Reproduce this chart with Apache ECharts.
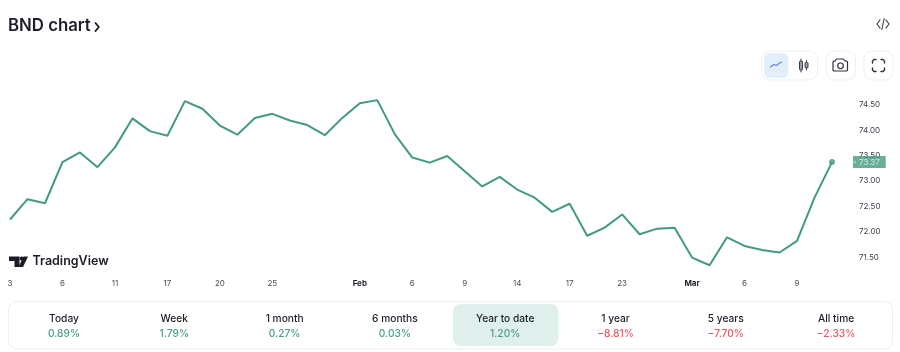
<!DOCTYPE html>
<html>
<head>
<meta charset="utf-8">
<style>html,body{margin:0;padding:0;background:#fff}#c{width:900px;height:352px}</style>
<script src="https://cdn.jsdelivr.net/npm/echarts@6/dist/echarts.min.js"></script>
</head>
<body>
<div id="c"></div>
<script>
const titleText = 'BND chart';
const axisLabels = ['3','','','6','','','11','','','17','','','20','','','25','','','','','Feb','','','6','','','9','','','14','','','17','','','23','','','','Mar','','','6','','','9','',''];
const closeValues = [72.24,72.64,72.56,73.37,73.56,73.27,73.66,74.23,73.98,73.89,74.57,74.42,74.09,73.91,74.24,74.32,74.19,74.10,73.90,74.24,74.53,74.59,73.92,73.46,73.36,73.49,73.19,72.89,73.08,72.83,72.67,72.39,72.55,71.92,72.08,72.34,71.95,72.06,72.08,71.49,71.34,71.89,71.72,71.64,71.59,71.82,72.67,73.37];
const boldLabels = ['Feb','Mar'];
const periodNames = ['Today','Week','1 month','6 months','Year to date','1 year','5 years','All time'];
const periodValues = ['0.89%','1.79%','0.27%','0.03%','1.20%','\u22128.81%','\u22127.70%','\u22122.33%'];
const selectedPeriod = 4;

const GREEN = '#429a80', GREEN_TEXT = '#4a9f86', RED = '#ef5560', INK = '#1c1e29', TICK = '#4a4c58';
const FONT = 'Inter, "Noto Sans", sans-serif';
const lastIndex = closeValues.length - 1;

const txt = (x, y, text, font, fill, align) => ({
  type: 'text', x, y, silent: true,
  style: { text, font, fill, textAlign: align || 'center', textVerticalAlign: 'middle' }
});
const box = (x, y, width, height, r, fill, stroke) => ({
  type: 'rect', silent: true, shape: { x, y, width, height, r },
  style: { fill: fill || '#fff', stroke: stroke || null, lineWidth: stroke ? 1 : 0 }
});
const pline = (points, stroke, w) => ({
  type: 'polyline', silent: true, shape: { points },
  style: { stroke, fill: null, lineWidth: w || 1.3, lineCap: 'round', lineJoin: 'round' }
});
const pgon = (points, fill) => ({
  type: 'polygon', silent: true, shape: { points }, style: { fill }
});

const graphics = [
  txt(8, 26, titleText, '600 16.8px ' + FONT, INK, 'left'),
  pline([[95.5,23],[98.8,27],[95.5,31]], INK, 1.9),
  // embed icon
  pline([[880,20],[877,24],[880,28]], '#3c3e4a', 1.2),
  pline([[886,20],[889,24],[886,28]], '#3c3e4a', 1.2),
  pline([[884.2,18.5],[881.8,29.5]], '#3c3e4a', 1.1),
  // toolbar
  box(761.5, 51, 56, 29, 8, '#fff', '#eeeff3'),
  box(764, 53, 24.5, 25, 6, '#e3eefc'),
  pline([[770.5,67],[774,64.5],[776.5,65.5],[779.5,63],[781.5,62.2]], '#5b86e0', 1.2),
  box(799.5, 61, 3, 9, 1, '#9a9ca6', '#3c3e4a'),
  pline([[801,59],[801,61]], '#3c3e4a', 1), pline([[801,70],[801,72]], '#3c3e4a', 1),
  box(805, 62.5, 3, 5.5, 1, '#9a9ca6', '#3c3e4a'),
  pline([[806.5,60.5],[806.5,62.5]], '#3c3e4a', 1), pline([[806.5,68],[806.5,70]], '#3c3e4a', 1),
  box(826.5, 51, 29, 29, 8, '#fff', '#eeeff3'),
  pline([[835,61],[836.5,59],[843.5,59],[845,61],[846.5,61],[847.5,62],[847.5,70],[846.5,71],[834,71],[833,70],[833,62],[834,61],[835,61]], '#30323e', 1.2),
  { type: 'circle', silent: true, shape: { cx: 840.5, cy: 65.8, r: 2.8 }, style: { fill: 'none', stroke: '#30323e', lineWidth: 1.2 } },
  box(864, 51, 29, 29, 8, '#fff', '#eeeff3'),
  pline([[872.5,63],[872.5,61],[874,59.5],[876,59.5]], '#30323e', 1.4),
  pline([[881,59.5],[883,59.5],[884.5,61],[884.5,63]], '#30323e', 1.4),
  pline([[884.5,68],[884.5,70],[883,71.5],[881,71.5]], '#30323e', 1.4),
  pline([[876,71.5],[874,71.5],[872.5,70],[872.5,68]], '#30323e', 1.4),
  // TradingView logo
  pgon([[9,256.5],[19.5,256.5],[19.5,267],[14.5,267],[14.5,261],[9,261]], '#1b1c24'),
  { type: 'circle', silent: true, shape: { cx: 21.6, cy: 258.6, r: 2.1 }, style: { fill: '#1b1c24' } },
  pgon([[23.5,256.5],[28,256.5],[23,267],[18.5,267]], '#1b1c24'),
  txt(32.5, 261.5, 'TradingView', '600 12.5px ' + FONT, '#1b1c24', 'left'),
  // period panel
  box(8.5, 301.5, 884, 47.5, 8, '#fff', '#eceef1'),
  box(453, 304, 105.5, 42, 8, '#dfefeb')
];
periodNames.forEach((name, i) => {
  const cx = 64 + i * 110.3;
  const v = periodValues[i];
  graphics.push(txt(cx, 318.5, name, '500 10.2px ' + FONT, INK));
  graphics.push(txt(cx, 333.5, v, '500 10.2px ' + FONT, v[0] === '\u2212' ? RED : GREEN_TEXT));
});

const chart = echarts.init(document.getElementById('c'), null, { renderer: 'canvas' });
chart.setOption({
  animation: false,
  backgroundColor: '#fff',
  grid: { left: 10, width: 822, top: 79.3, height: 203.2, containLabel: false },
  xAxis: {
    type: 'category', data: axisLabels, boundaryGap: false,
    axisLine: { show: false }, axisTick: { show: false }, splitLine: { show: false },
    axisLabel: {
      interval: 0, margin: 1.5, verticalAlign: 'middle', hideOverlap: false,
      formatter: v => boldLabels.includes(v) ? '{b|' + v + '}' : v,
      color: TICK, fontFamily: FONT, fontSize: 8,
      rich: { b: { fontWeight: 700, color: INK, fontSize: 8, fontFamily: FONT } }
    }
  },
  yAxis: {
    type: 'value', position: 'right', min: 71, max: 75, interval: 0.5,
    axisLine: { show: false }, axisTick: { show: false }, splitLine: { show: false },
    axisLabel: {
      margin: 27, color: '#3c3e4a', fontFamily: FONT, fontSize: 8,
      formatter: v => (v <= 71 || v >= 75) ? '' : v.toFixed(2)
    }
  },
  series: [
    {
      type: 'line', data: closeValues, showSymbol: false, smooth: false,
      lineStyle: { color: GREEN, width: 2 }, itemStyle: { color: GREEN }, silent: true
    },
    {
      type: 'scatter', data: [[lastIndex, closeValues[lastIndex]]], symbolSize: 6, z: 5,
      itemStyle: { color: GREEN }, silent: true,
      label: {
        show: true, position: 'right', distance: 18,
        formatter: p => p.value[1].toFixed(2),
        color: '#e8f4f0', backgroundColor: GREEN, fontFamily: FONT, fontSize: 8,
        padding: [2, 6, 2, 6]
      }
    },
    {
      type: 'scatter', data: [[lastIndex, closeValues[lastIndex]]], z: 6, silent: true,
      symbol: 'rect', symbolSize: [2.5, 1], symbolOffset: [22.8, 0],
      itemStyle: { color: '#ffffff' }
    }
  ],
  graphic: { elements: graphics }
});
</script>
</body>
</html>
